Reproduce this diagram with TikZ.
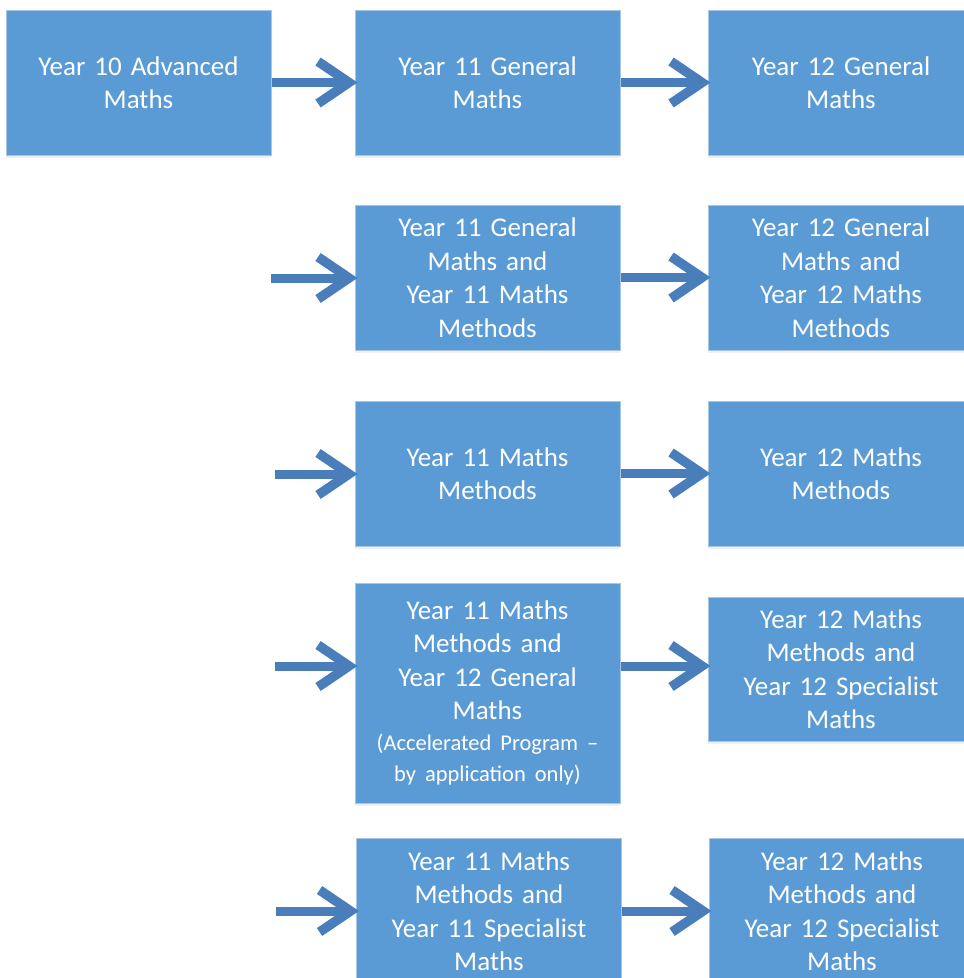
\documentclass[tikz,border=0pt]{standalone}
\usepackage{fontspec}
\setmainfont{Carlito}
\usetikzlibrary{arrows.meta,shadows}
\definecolor{boxblue}{HTML}{5B9BD5}
\definecolor{boxedge}{HTML}{A9C5E4}
\definecolor{arrowblue}{HTML}{4A7EBB}
\tikzset{
  box/.style={rectangle, fill=boxblue, draw=boxedge, line width=1pt,
    minimum width=265pt, minimum height=145pt, text width=258pt, align=center,
    text=white, inner sep=0pt, font=\fontsize{27}{33.5}\selectfont,
    drop shadow={opacity=0.12, shadow xshift=0pt, shadow yshift=-3pt}},
  conn/.style={line width=9pt, color=arrowblue, shorten >=-3pt,
    -{Straight Barb[length=31pt, width=42pt, line width=9.5pt]}},
}
\newcommand{\smalltxt}[1]{\par{\fontsize{22.5}{31}\selectfont #1\par}}
\begin{document}
\begin{tikzpicture}[x=1pt,y=-1pt]
\useasboundingbox (0,0) rectangle (964,978);
\clip (0,0) rectangle (964,978);
% column boxes
\node[box] (A) at (138.5,82.5) {Year 10 Advanced\\Maths};
\node[box] (B) at (487.5,82.5) {Year 11 General\\Maths};
\node[box, minimum width=266pt] (C) at (841,82.5) {Year 12 General\\Maths};
\node[box] (D) at (487.5,277.5) {Year 11 General\\Maths and\\Year 11 Maths\\Methods};
\node[box, minimum width=266pt] (E) at (841,277.5) {Year 12 General\\Maths and\\Year 12 Maths\\Methods};
\node[box] (F) at (487.5,473.5) {Year 11 Maths\\Methods};
\node[box, minimum width=266pt] (G) at (841,473.5) {Year 12 Maths\\Methods};
\node[box, minimum height=220pt] (H) at (487.5,693) {Year 11 Maths\\Methods and\\Year 12 General\\Maths\smalltxt{(Accelerated Program –\\by application only)}};
\node[box, minimum width=266pt, minimum height=144pt] (I) at (841,669) {Year 12 Maths\\Methods and\\Year 12 Specialist\\Maths};
\node[box, minimum height=146pt] (J) at (489,911) {Year 11 Maths\\Methods and\\Year 11 Specialist\\Maths};
\node[box, minimum width=266pt, minimum height=146pt] (K) at (842,911) {Year 12 Maths\\Methods and\\Year 12 Specialist\\Maths};
% free ends
\coordinate (s2) at (271,278);
\coordinate (s3) at (275,474);
\coordinate (s4) at (275,666);
\coordinate (s5) at (276,911);
% connectors
\draw[conn] (A.east) -- (B.west);
\draw[conn] (B.east) -- (C.west);
\draw[conn] (s2) -- (s2 -| D.west);
\draw[conn] (D.east) -- (E.west);
\draw[conn] (s3) -- (s3 -| F.west);
\draw[conn] (F.east) -- (G.west);
\draw[conn] (s4) -- (s4 -| H.west);
\draw[conn] (s4 -| H.east) -- (s4 -| I.west);
\draw[conn] (s5) -- (s5 -| J.west);
\draw[conn] (J.east) -- (K.west);
\end{tikzpicture}
\end{document}
